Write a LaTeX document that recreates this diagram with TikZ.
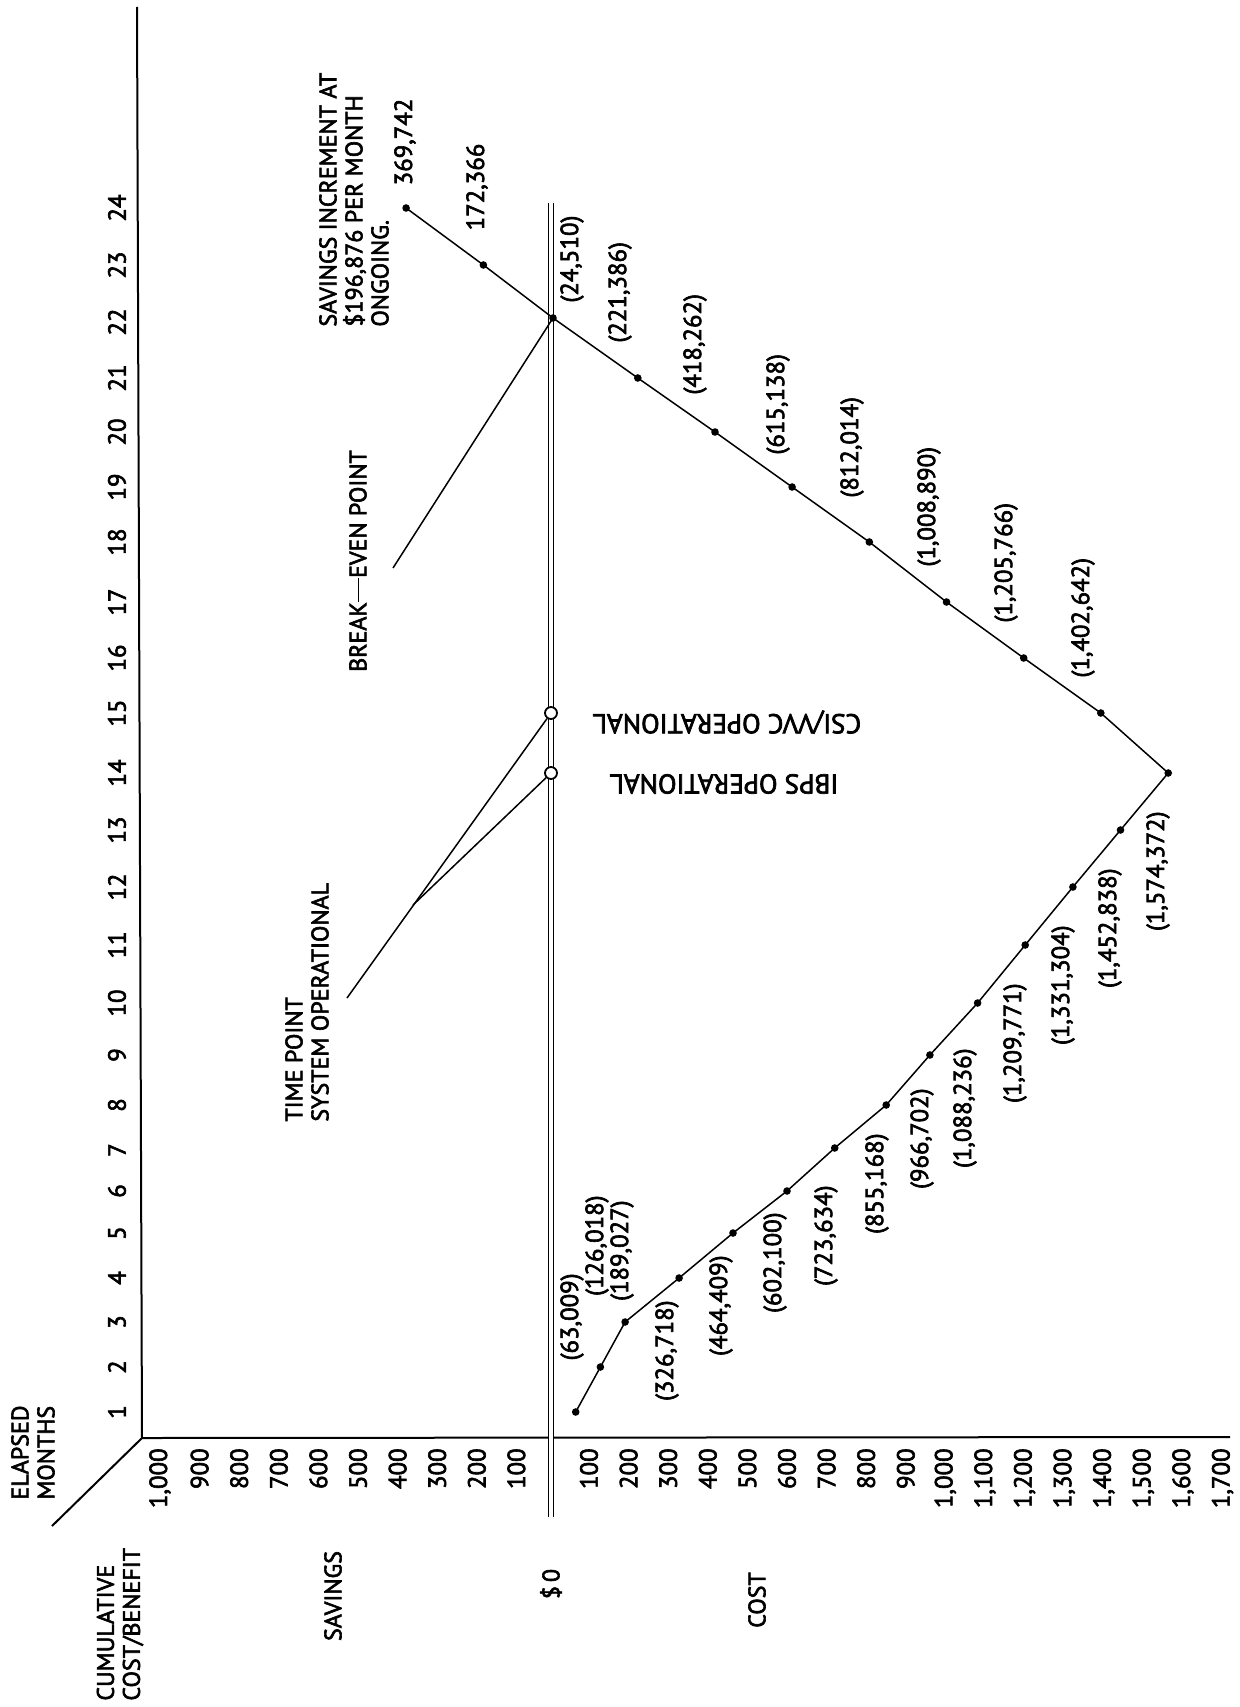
\documentclass[tikz,border=0pt]{standalone}
\usepackage{fontspec}
\setmainfont{PT Sans}[FakeBold=2.5]
\begin{document}
\begin{tikzpicture}[x=0.5pt,y=-0.5pt,
  txt/.style={font=\fontsize{12.4}{14}\selectfont, inner sep=0pt},
  note/.style={font=\fontsize{12}{13}\selectfont, inner sep=0pt, align=left},
  bignote/.style={font=\fontsize{13.6}{15}\selectfont, inner sep=0pt},
  up/.style={rotate=90},
  axisline/.style={line width=1pt},
  dataline/.style={line width=0.75pt},
  leader/.style={line width=0.75pt},
  zeroline/.style={double, double distance=1.7pt, line width=0.65pt},
  dot/.style={circle, fill, inner sep=0pt, minimum size=3.8pt},
  ring/.style={circle, draw, line width=0.9pt, fill=white, inner sep=0pt, minimum size=6pt}]
\useasboundingbox (0,0) rectangle (1240,1707);

% axes
\coordinate (o) at (142,1438);
\coordinate (ytop) at (137,7);
\coordinate (xend) at (1230,1437);
\coordinate (diag) at (52,1526);
\draw[axisline] (ytop) -- (o) -- (xend);
\draw[axisline] (o) -- (diag);

% break-even ($0) line
\coordinate (ztop) at (551,203);
\coordinate (zbot) at (551,1517);
\draw[zeroline] (ztop) -- (zbot);

% month labels
\foreach \m/\y in {1/1412,2/1367,3/1322,4/1278,5/1233,6/1191,7/1150,8/1105,
  9/1055,10/1003,11/945,12/887,13/830,14/773,15/713,16/658,17/602,18/542,
  19/487,20/432,21/378,22/322,23/265,24/208}
  \node[txt,up] (m\m) at (117,\y) {\m};

% value scale (thousands of dollars)
\foreach \t [count=\i] in {{1,000},900,800,700,600,500,400,300,200,100}
  \node[txt,up,anchor=east] (s\i) at ({160+(\i-1)*39.6},1448) {\t};
\foreach \t [count=\i] in {100,200,300,400,500,600,700,800,900,
  {1,000},{1,100},{1,200},{1,300},{1,400},{1,500},{1,600},{1,700}}
  \node[txt,up,anchor=east] (c\i) at ({589+(\i-1)*39.6},1448) {\t};

% axis titles
\node[note,up,anchor=west] (elapsed) at (33,1500) {ELAPSED\\MONTHS};
\node[note,up,anchor=west] (cumul) at (120,1701) {CUMULATIVE\\COST/BENEFIT};
\node[note,up] (savings) at (333,1596) {SAVINGS};
\node[note,up] (zero) at (551,1584) {\$\,0};
\node[note,up] (cost) at (757,1600) {COST};

% cumulative cost/benefit per month
\node[dot] (p1) at (575.7,1412) {};
\node[dot] (p2) at (600.4,1367) {};
\node[dot] (p3) at (625.1,1322) {};
\node[dot] (p4) at (679.1,1278) {};
\node[dot] (p5) at (733.0,1233) {};
\node[dot] (p6) at (787.0,1191) {};
\node[dot] (p7) at (834.7,1148) {};
\node[dot] (p8) at (886.2,1105) {};
\node[dot] (p9) at (929.9,1055) {};
\node[dot] (p10) at (977.6,1003) {};
\node[dot] (p11) at (1025.2,945) {};
\node[dot] (p12) at (1072.9,887) {};
\node[dot] (p13) at (1120.5,830) {};
\node[dot] (p14) at (1168.2,773) {};
\node[dot] (p15) at (1100.8,713) {};
\node[dot] (p16) at (1023.7,658) {};
\node[dot] (p17) at (946.5,602) {};
\node[dot] (p18) at (869.3,542) {};
\node[dot] (p19) at (792.1,487) {};
\node[dot] (p20) at (715.0,432) {};
\node[dot] (p21) at (637.8,378) {};
\node[dot] (p22) at (553,318) {};
\node[dot] (p23) at (483.4,265) {};
\node[dot] (p24) at (406.1,208) {};
\draw[dataline] (p1.center) \foreach \k in {2,...,24} { -- (p\k.center) };

% value labels, cost phase
\node[txt,up,anchor=east] (v1) at (572,1273) {(63,009)};
\node[txt,up,anchor=east] (v2) at (597,1195) {(126,018)};
\node[txt,up,anchor=east] (v3) at (622,1200) {(189,027)};
\node[txt,up,anchor=east] (v4) at (667,1300) {(326,718)};
\node[txt,up,anchor=east] (v5) at (721,1255) {(464,409)};
\node[txt,up,anchor=east] (v6) at (775,1212) {(602,100)};
\node[txt,up,anchor=east] (v7) at (826,1185) {(723,634)};
\node[txt,up,anchor=east] (v8) at (877,1133) {(855,168)};
\node[txt,up,anchor=east] (v9) at (922,1088) {(966,702)};
\node[txt,up,anchor=east] (v10) at (965,1048) {(1,088,236)};
\node[txt,up,anchor=east] (v11) at (1015,983) {(1,209,771)};
\node[txt,up,anchor=east] (v12) at (1063,925) {(1,331,304)};
\node[txt,up,anchor=east] (v13) at (1110,868) {(1,452,838)};
\node[txt,up,anchor=east] (v14) at (1158,811) {(1,574,372)};
% value labels, savings phase
\node[txt,up,anchor=west] (v15) at (1083,678) {(1,402,642)};
\node[txt,up,anchor=west] (v16) at (1006,623) {(1,205,766)};
\node[txt,up,anchor=west] (v17) at (929,567) {(1,008,890)};
\node[txt,up,anchor=west] (v18) at (852,498) {(812,014)};
\node[txt,up,anchor=west] (v19) at (778,455) {(615,138)};
\node[txt,up,anchor=west] (v20) at (695,395) {(418,262)};
\node[txt,up,anchor=west] (v21) at (620,343) {(221,386)};
\node[txt,up,anchor=west] (v22) at (572,303) {(24,510)};
\node[txt,up] (v23) at (477,187) {172,366};
\node[txt,up] (v24) at (405,142) {369,742};

% milestones on the $0 line
\node[ring] (r15) at (551,713) {};
\node[ring] (r14) at (551,773) {};
\node[bignote,rotate=180] (csi) at (727,722) {CSI/VVC OPERATIONAL};
\node[bignote,rotate=180] (ibps) at (724,784) {IBPS OPERATIONAL};

% annotations and leaders
\node[note,up,anchor=west] (tpnote) at (307,1122) {TIME POINT\\SYSTEM OPERATIONAL};
\coordinate (tp) at (347,998);
\coordinate (tj) at (413,905);
\draw[leader] (tp) -- (r15);
\draw[leader] (tj) -- (r14);

\node[note,up] (benote) at (358,561) {BREAK\rule[0.3em]{1em}{0.07em}EVEN POINT};
\coordinate (be) at (393,568);
\draw[leader] (be) -- (p22.center);

\node[note,up,anchor=west] (incr) at (354,327) {SAVINGS INCREMENT AT\\\$196,876 PER MONTH\\ONGOING.};
\end{tikzpicture}
\end{document}
